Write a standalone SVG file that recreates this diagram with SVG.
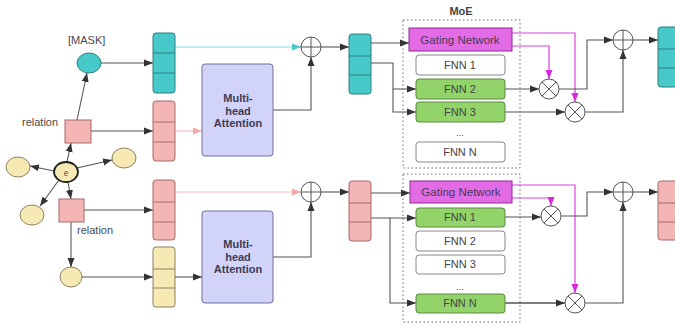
<svg xmlns="http://www.w3.org/2000/svg" width="675" height="324" viewBox="0 0 675 324">
  <style>
    text { font-family: "Liberation Sans", Arial, sans-serif; fill: #444; }
    .lbl { font-size: 11px; fill: #4a4a4a; }
    .mha { font-size: 11px; font-weight: bold; fill: #3c3c55; text-anchor: middle; }
    .box { font-size: 11px; text-anchor: middle; }
    .teal { fill: #48c9c9; stroke: #2e7f80; stroke-width: 1; }
    .pink { fill: #f4b5b5; stroke: #a86868; stroke-width: 1; }
    .yel { fill: #f6e9b4; stroke: #8a8262; stroke-width: 1; }
    .div { stroke-width: 1; }
    .mhab { fill: #d2d3f9; stroke: #6e6f9a; stroke-width: 1; }
    .gate { fill: #e36be6; stroke: #8e2a93; stroke-width: 1; }
    .fnn { fill: #ffffff; stroke: #888; stroke-width: 1; }
    .fnng { fill: #92d46a; stroke: #5a8a3e; stroke-width: 1; }
    .moe { fill: none; stroke: #666; stroke-width: 1; stroke-dasharray: 1.5 2.5; }
    .op { fill: #fff; stroke: #555; stroke-width: 1; }
    .c { fill: none; stroke: #555; stroke-width: 1.1; marker-end: url(#ah); }
    .ct { fill: none; stroke: #7fdcdc; stroke-width: 1.2; marker-end: url(#aht); }
    .cp { fill: none; stroke: #f6b9b9; stroke-width: 1.2; marker-end: url(#ahp); }
    .cm { fill: none; stroke: #e040e3; stroke-width: 1.2; marker-end: url(#ahm); }
  </style>
  <defs>
    <marker id="ah" markerUnits="userSpaceOnUse" markerWidth="10" markerHeight="8" refX="9" refY="4" orient="auto">
      <path d="M0,0.5 L9,4 L0,7.5 Z" fill="#333"/>
    </marker>
    <marker id="aht" markerUnits="userSpaceOnUse" markerWidth="10" markerHeight="8" refX="9" refY="4" orient="auto">
      <path d="M0,0.5 L9,4 L0,7.5 Z" fill="#4cc9cc"/>
    </marker>
    <marker id="ahp" markerUnits="userSpaceOnUse" markerWidth="10" markerHeight="8" refX="9" refY="4" orient="auto">
      <path d="M0,0.5 L9,4 L0,7.5 Z" fill="#f3a9a9"/>
    </marker>
    <marker id="ahm" markerUnits="userSpaceOnUse" markerWidth="10" markerHeight="8" refX="9" refY="4" orient="auto">
      <path d="M0,0.5 L9,4 L0,7.5 Z" fill="#d42ad8"/>
    </marker>
  </defs>

  <!-- connectors -->
  <g id="connectors">
    <!-- entity graph -->
    <path class="c" d="M77,120 L87,73"/>
    <path class="c" d="M101,63 H153"/>
    <path class="c" d="M91,131 H153"/>
    <path class="c" d="M67,162 L71,143"/>
    <path class="c" d="M54,171 L30,166"/>
    <path class="c" d="M77,168 L112,160"/>
    <path class="c" d="M59,180 L40,206"/>
    <path class="c" d="M68,182 L71,199"/>
    <path class="c" d="M71,222 V267"/>
    <path class="c" d="M84,210 H153"/>
    <path class="c" d="M82,277 H153"/>

    <!-- upper branch -->
    <path class="ct" d="M175,47 H301"/>
    <path class="cp" d="M175,131 H202"/>
    <path class="c" d="M273,110 H311 V57"/>
    <path class="c" d="M321,47 H349"/>
    <path class="c" d="M371,43 H409"/>
    <path class="c" d="M371,63 H393 V89 H416"/>
    <path class="c" d="M393,89 V112 H416"/>
    <path class="cm" d="M512,33 H575 V102"/>
    <path class="cm" d="M512,46 H549 V79"/>
    <path class="c" d="M505,89 H539"/>
    <path class="c" d="M505,112 H565"/>
    <path class="c" d="M559,89 H587 V40 H613"/>
    <path class="c" d="M585,112 H623 V50"/>
    <path class="c" d="M633,40 H658"/>

    <!-- lower branch -->
    <path class="cp" d="M175,192 H301"/>
    <path class="c" d="M175,277 H202"/>
    <path class="c" d="M273,257 H311 V202"/>
    <path class="c" d="M321,192 H349"/>
    <path class="c" d="M371,193 H410"/>
    <path class="c" d="M371,218 H416"/>
    <path class="c" d="M390,218 V303 H416"/>
    <path class="cm" d="M512,185 H575 V293"/>
    <path class="cm" d="M512,198 H551 V206"/>
    <path class="c" d="M505,217 H541"/>
    <path class="c" d="M505,303 H565" style="stroke-width:1.5"/>
    <path class="c" d="M561,216 H587 V192 H613"/>
    <path class="c" d="M585,303 H623 V202"/>
    <path class="c" d="M633,192 H658"/>
  </g>

  <!-- entity graph nodes -->
  <g id="mask">
    <text class="lbl" x="68" y="44">[MASK]</text>
    <ellipse cx="89" cy="63" rx="12" ry="10" class="teal"/>
  </g>
  <g id="relation-top">
    <rect x="65" y="120" width="26" height="23" class="pink"/>
    <text class="lbl" x="22" y="126">relation</text>
  </g>
  <g id="entity-e">
    <ellipse cx="66" cy="172" rx="12" ry="10" fill="#f6e9b4" stroke="#222" stroke-width="1.8"/>
    <text x="66" y="176" font-size="10" text-anchor="middle" style="font-family:'Liberation Serif',serif;fill:#555">e</text>
  </g>
  <g id="nb-left"><ellipse cx="18" cy="167" rx="12" ry="10" class="yel"/></g>
  <g id="nb-right"><ellipse cx="124" cy="158" rx="12" ry="10" class="yel"/></g>
  <g id="nb-lowleft"><ellipse cx="32" cy="215" rx="12" ry="10" class="yel"/></g>
  <g id="relation-bottom">
    <rect x="59" y="199" width="25" height="23" class="pink"/>
    <text class="lbl" x="77" y="234">relation</text>
  </g>
  <g id="nb-bottom"><ellipse cx="71" cy="277" rx="11" ry="10" class="yel"/></g>

  <!-- input embedding stacks -->
  <g id="emb-mask">
    <rect x="153" y="33" width="22" height="60" rx="3" class="teal"/>
    <path d="M153,53 H175 M153,73 H175" stroke="#2e7f80" class="div"/>
  </g>
  <g id="emb-rel-top">
    <rect x="153" y="101" width="22" height="60" rx="3" class="pink"/>
    <path d="M153,122 H175 M153,142 H175" stroke="#a86868" class="div"/>
  </g>
  <g id="emb-rel-bottom">
    <rect x="153" y="180" width="22" height="60" rx="3" class="pink"/>
    <path d="M153,202 H175 M153,222 H175" stroke="#a86868" class="div"/>
  </g>
  <g id="emb-nb">
    <rect x="153" y="247" width="22" height="60" rx="3" class="yel"/>
    <path d="M153,269 H175 M153,288 H175" stroke="#8a8262" class="div"/>
  </g>

  <!-- attention blocks -->
  <g id="mha-top">
    <rect x="202" y="64" width="71" height="92" rx="3" class="mhab"/>
    <text class="mha" x="238" y="102">Multi-</text>
    <text class="mha" x="238" y="114.5">head</text>
    <text class="mha" x="238" y="127">Attention</text>
  </g>
  <g id="mha-bottom">
    <rect x="202" y="211" width="71" height="92" rx="3" class="mhab"/>
    <text class="mha" x="238" y="248">Multi-</text>
    <text class="mha" x="238" y="260.5">head</text>
    <text class="mha" x="238" y="273">Attention</text>
  </g>

  <!-- residual adds -->
  <g id="add-1">
    <circle cx="311" cy="47" r="10" class="op"/>
    <path d="M301,47 H321 M311,37 V57" stroke="#555" stroke-width="1"/>
  </g>
  <g id="add-2">
    <circle cx="311" cy="192" r="10" class="op"/>
    <path d="M301,192 H321 M311,182 V202" stroke="#555" stroke-width="1"/>
  </g>

  <!-- hidden stacks -->
  <g id="hid-top">
    <rect x="349" y="34" width="22" height="60" rx="3" class="teal"/>
    <path d="M349,56 H371 M349,75 H371" stroke="#2e7f80" class="div"/>
  </g>
  <g id="hid-bottom">
    <rect x="349" y="181" width="22" height="60" rx="3" class="pink"/>
    <path d="M349,203 H371 M349,222 H371" stroke="#a86868" class="div"/>
  </g>

  <!-- MoE upper -->
  <g id="moe-top">
    <text x="461" y="15" font-size="11" font-weight="bold" text-anchor="middle">MoE</text>
    <rect x="403" y="20" width="117" height="148" class="moe"/>
    <rect x="409" y="28" width="103" height="23" class="gate"/>
    <text class="box" x="460" y="44" style="font-size:11.5px;fill:#4a3a55">Gating Network</text>
    <rect x="416" y="55" width="89" height="20" rx="3" class="fnn"/>
    <text class="box" x="460" y="69">FNN 1</text>
    <rect x="416" y="79" width="89" height="20" rx="3" class="fnng"/>
    <text class="box" x="460" y="93">FNN 2</text>
    <rect x="416" y="102" width="89" height="20" rx="3" class="fnng"/>
    <text class="box" x="460" y="116">FNN 3</text>
    <text class="box" x="460" y="136" style="font-size:9px">...</text>
    <rect x="416" y="142" width="89" height="20" rx="3" class="fnn"/>
    <text class="box" x="460" y="156">FNN N</text>
  </g>

  <!-- MoE lower -->
  <g id="moe-bottom">
    <rect x="403" y="174" width="117" height="148" class="moe"/>
    <rect x="410" y="181" width="102" height="22" class="gate"/>
    <text class="box" x="461" y="196" style="font-size:11.5px;fill:#4a3a55">Gating Network</text>
    <rect x="416" y="208" width="89" height="19" rx="3" class="fnng"/>
    <text class="box" x="460" y="221">FNN 1</text>
    <rect x="416" y="231" width="89" height="20" rx="3" class="fnn"/>
    <text class="box" x="460" y="245">FNN 2</text>
    <rect x="416" y="255" width="89" height="19" rx="3" class="fnn"/>
    <text class="box" x="460" y="268">FNN 3</text>
    <text class="box" x="460" y="290" style="font-size:9px">...</text>
    <rect x="416" y="294" width="89" height="19" rx="3" class="fnng"/>
    <text class="box" x="460" y="307">FNN N</text>
  </g>

  <!-- gated products -->
  <g id="mul-1">
    <circle cx="549" cy="89" r="10" class="op"/>
    <path d="M542,82 L556,96 M556,82 L542,96" stroke="#555" stroke-width="1"/>
  </g>
  <g id="mul-2">
    <circle cx="575" cy="112" r="10" class="op"/>
    <path d="M568,105 L582,119 M582,105 L568,119" stroke="#555" stroke-width="1"/>
  </g>
  <g id="mul-3">
    <circle cx="551" cy="216" r="10" class="op"/>
    <path d="M544,209 L558,223 M558,209 L544,223" stroke="#555" stroke-width="1"/>
  </g>
  <g id="mul-4">
    <circle cx="575" cy="303" r="10" class="op"/>
    <path d="M568,296 L582,310 M582,296 L568,310" stroke="#555" stroke-width="1"/>
  </g>

  <!-- output adds -->
  <g id="add-3">
    <circle cx="623" cy="40" r="10" class="op"/>
    <path d="M613,40 H633 M623,30 V50" stroke="#555" stroke-width="1"/>
  </g>
  <g id="add-4">
    <circle cx="623" cy="192" r="10" class="op"/>
    <path d="M613,192 H633 M623,182 V202" stroke="#555" stroke-width="1"/>
  </g>

  <!-- output stacks -->
  <g id="out-top">
    <rect x="658" y="27" width="24" height="60" rx="3" class="teal"/>
    <path d="M658,49 H682 M658,68 H682" stroke="#2e7f80" class="div"/>
  </g>
  <g id="out-bottom">
    <rect x="658" y="181" width="24" height="59" rx="3" class="pink"/>
    <path d="M658,203 H682 M658,222 H682" stroke="#a86868" class="div"/>
  </g>
</svg>
